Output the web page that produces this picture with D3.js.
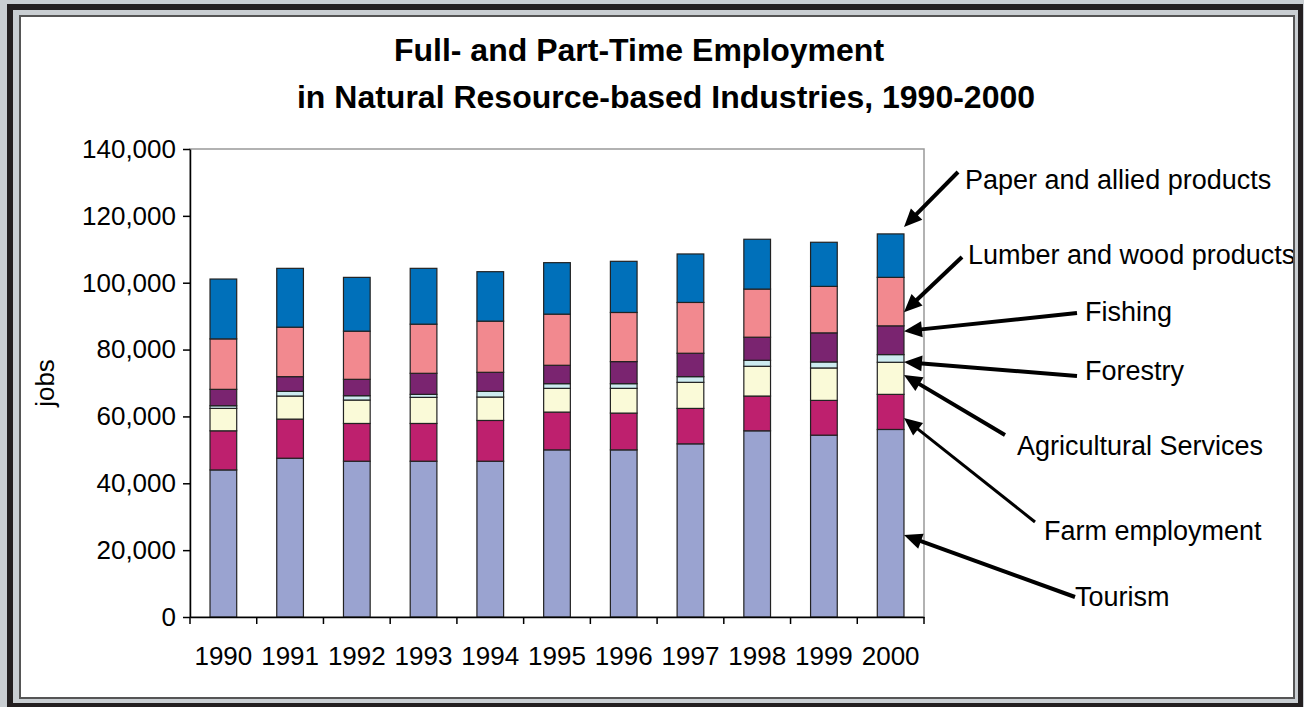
<!DOCTYPE html>
<html>
<head>
<meta charset="utf-8">
<script src="https://cdn.jsdelivr.net/npm/d3@7"></script>
<style>
body { margin: 0; background: #c9ced2; overflow: hidden; }
text { font-family: Arial, "Liberation Sans", sans-serif; fill: #000; }
</style>
</head>
<body>
<script>
// chart data (jobs)
var years = ["1990", "1991", "1992", "1993", "1994", "1995", "1996", "1997", "1998", "1999", "2000"];
var seriesNames = ["Tourism", "Farm employment", "Agricultural Services", "Forestry", "Fishing",
    "Lumber and wood products", "Paper and allied products"];
var tourism = [44000, 47500, 46600, 46600, 46600, 50000, 50000, 51800, 55700, 54400, 56100];
var farm = [11700, 11700, 11300, 11300, 12200, 11300, 11000, 10600, 10400, 10400, 10500];
var agServices = [6700, 6900, 7000, 7800, 7000, 7100, 7400, 7800, 8900, 9700, 9600];
var forestry = [800, 1400, 1300, 900, 1700, 1400, 1400, 1700, 1800, 1800, 2300];
var fishing = [4900, 4400, 4900, 6300, 5700, 5500, 6600, 7000, 6900, 8700, 8600];
var lumber = [15100, 14800, 14400, 14700, 15300, 15300, 14700, 15200, 14400, 13900, 14500];
var paper = [17900, 17600, 16100, 16700, 14800, 15400, 15300, 14500, 14900, 13200, 13000];
var yTicks = [0, 20000, 40000, 60000, 80000, 100000, 120000, 140000];
// value on the 2000 bar each callout arrow points at
var calloutValues = [24500, 59500, 72400, 76300, 85500, 91200, 116700];

var colors = ["#9aa3d0", "#be206e", "#fafad8", "#cdebf0", "#7a2470", "#f2898f", "#0070ba"];

var width = 1304, height = 707;
var plot = { left: 190, right: 924, top: 149, bottom: 617 };

var svg = d3.select("body").append("svg")
    .attr("width", width)
    .attr("height", height);

// frame
svg.append("rect").attr("x", 0).attr("y", 0).attr("width", width).attr("height", height).attr("fill", "#c9ced2");
svg.append("rect").attr("x", 7).attr("y", 4).attr("width", 1296).attr("height", 710).attr("fill", "#231f20");
svg.append("rect").attr("x", 13).attr("y", 10).attr("width", 1285).attr("height", 693).attr("fill", "#c9ced2");
svg.append("rect").attr("x", 20).attr("y", 16).attr("width", 1274).attr("height", 682)
    .attr("fill", "#fff").attr("stroke", "#555").attr("stroke-width", 2);

svg.append("clipPath").attr("id", "inner")
    .append("rect").attr("x", 21).attr("y", 17).attr("width", 1272).attr("height", 680);

var g = svg.append("g").attr("clip-path", "url(#inner)");

var rows = years.map(function (yr, i) {
    var r = { year: yr };
    [tourism, farm, agServices, forestry, fishing, lumber, paper].forEach(function (arr, k) {
        r[seriesNames[k]] = arr[i];
    });
    return r;
});

var x = d3.scaleBand().domain(years).range([plot.left, plot.right]).padding(0);
var step = x.step();
var barW = step / 2.5;
var y = d3.scaleLinear().domain([0, 140000]).range([plot.bottom, plot.top]);

var stack = d3.stack().keys(seriesNames);
var layers = stack(rows);

// plot area border (top / right grey)
g.append("rect")
    .attr("x", plot.left).attr("y", plot.top)
    .attr("width", plot.right - plot.left).attr("height", plot.bottom - plot.top)
    .attr("fill", "#fff").attr("stroke", "#999").attr("stroke-width", 1.5);

g.selectAll("g.layer")
    .data(layers)
    .enter()
    .append("g")
    .attr("class", "layer")
    .attr("fill", function (d, i) { return colors[i]; })
    .selectAll("rect")
    .data(function (d) { return d; })
    .enter()
    .append("rect")
    .attr("x", function (d) { return x(d.data.year) + (step - barW) / 2; })
    .attr("y", function (d) { return y(d[1]); })
    .attr("width", barW)
    .attr("height", function (d) { return y(d[0]) - y(d[1]); })
    .attr("stroke", "#222")
    .attr("stroke-width", 1.2);

// y axis
var yAxis = g.append("g")
    .attr("transform", "translate(" + plot.left + ",0)")
    .call(d3.axisLeft(y).tickValues(yTicks).tickSize(7).tickSizeOuter(0).tickPadding(7).tickFormat(d3.format(",")));
yAxis.selectAll("text").style("font-size", "26px");
yAxis.selectAll("line,path").attr("stroke", "#000").attr("stroke-width", 1.5);

// x axis
var xAxis = g.append("g")
    .attr("transform", "translate(0," + plot.bottom + ")")
    .call(d3.axisBottom(x).tickSize(0).tickPadding(30));
xAxis.selectAll("text").style("font-size", "26px");
xAxis.select("path").attr("stroke", "#000").attr("stroke-width", 1.5);

g.selectAll("line.xtick")
    .data(years.concat(["end"]))
    .enter()
    .append("line")
    .attr("class", "xtick")
    .attr("x1", function (d, i) { return plot.left + i * step; })
    .attr("x2", function (d, i) { return plot.left + i * step; })
    .attr("y1", plot.bottom)
    .attr("y2", plot.bottom + 7)
    .attr("stroke", "#000")
    .attr("stroke-width", 1.5);

g.append("text")
    .attr("transform", "translate(45," + ((plot.top + plot.bottom) / 2) + ") rotate(-90)")
    .attr("text-anchor", "middle")
    .attr("dy", "0.35em")
    .style("font-size", "26px")
    .text("jobs");

// title
g.append("text").attr("x", 639).attr("y", 61).attr("text-anchor", "middle")
    .style("font-size", "32px").style("font-weight", "bold")
    .text("Full- and Part-Time Employment");
g.append("text").attr("x", 666).attr("y", 108).attr("text-anchor", "middle")
    .style("font-size", "32px").style("font-weight", "bold")
    .text("in Natural Resource-based Industries, 1990-2000");

// callouts: label position and start of arrow line
var callouts = [
    { lx: 1075, ly: 597, sx: 1075, sy: 597, w: 4 },
    { lx: 1044, ly: 531, sx: 1035, sy: 522, w: 3 },
    { lx: 1017, ly: 446, sx: 1005, sy: 435, w: 4 },
    { lx: 1085, ly: 371, sx: 1077, sy: 376, w: 4 },
    { lx: 1085, ly: 312, sx: 1077, sy: 313, w: 4 },
    { lx: 968, ly: 255, sx: 962, sy: 257, w: 4 },
    { lx: 965, ly: 180, sx: 958, sy: 172, w: 4 }
];
var tipX = x("2000") + (step + barW) / 2;

function arrow(x1, y1, x2, y2, w) {
    var dx = x2 - x1, dy = y2 - y1;
    var len = Math.sqrt(dx * dx + dy * dy);
    var ux = dx / len, uy = dy / len;
    var headLen = 18, headW = 8;
    var bx = x2 - ux * headLen, by = y2 - uy * headLen;
    g.append("line")
        .attr("x1", x1).attr("y1", y1)
        .attr("x2", bx + ux * 3).attr("y2", by + uy * 3)
        .attr("stroke", "#000").attr("stroke-width", w);
    g.append("path")
        .attr("d", "M" + x2 + "," + y2 +
            "L" + (bx - uy * headW) + "," + (by + ux * headW) +
            "L" + (bx + uy * headW) + "," + (by - ux * headW) + "Z")
        .attr("fill", "#000");
}

callouts.forEach(function (c, i) {
    arrow(c.sx, c.sy, tipX, y(calloutValues[i]), c.w);
    g.append("text")
        .attr("x", c.lx).attr("y", c.ly)
        .attr("dy", "0.35em")
        .style("font-size", "27px")
        .text(seriesNames[i]);
});
</script>
</body>
</html>
